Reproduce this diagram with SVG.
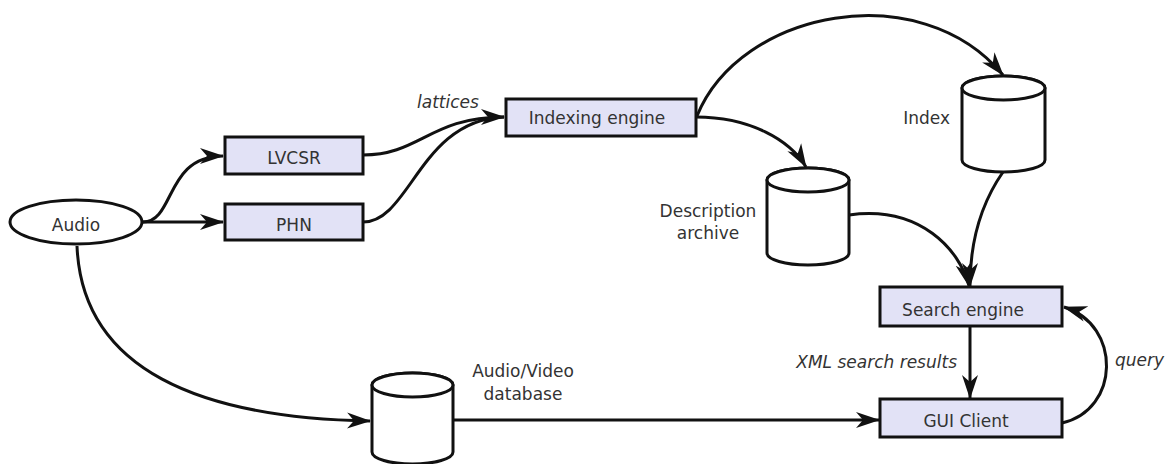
<svg xmlns="http://www.w3.org/2000/svg" width="1172" height="464" viewBox="0 0 1172 464">
<style>
.box{fill:#e2e2f6;stroke:#111;stroke-width:3}
.cyl{fill:#fff;stroke:#111;stroke-width:3}
.edge{fill:none;stroke:#111;stroke-width:3}
text{font-family:"DejaVu Sans",Verdana,sans-serif;font-size:17px;fill:#333}
.c{text-anchor:middle}
.e{text-anchor:end}
.i{font-style:italic}
</style>
<defs>
<marker id="arr" viewBox="0 0 24 18" refX="23" refY="9" markerWidth="24" markerHeight="18" markerUnits="userSpaceOnUse" orient="auto">
<path d="M0,1 L24,9 L0,17 L7,9 z" fill="#111"/>
</marker>
</defs>
<rect width="1172" height="464" fill="#fff"/>
<g id="connectors">
<path class="edge" d="M143,222 C175,222 165,156 223,156" marker-end="url(#arr)"/>
<path class="edge" d="M143,222 L223,222" marker-end="url(#arr)"/>
<path class="edge" d="M77,246 C82,370 200,418 370,421" marker-end="url(#arr)"/>
<path class="edge" d="M363,155 C420,155 430,117 504,117" marker-end="url(#arr)"/>
<path class="edge" d="M363,222 C410,222 420,120 504,117"/>
<path class="edge" d="M697,116 C740,10 920,-25 1003,75" marker-end="url(#arr)"/>
<path class="edge" d="M696,117 C750,117 790,140 806,167" marker-end="url(#arr)"/>
<path class="edge" d="M849,215 C920,205 960,250 969,286" marker-end="url(#arr)"/>
<path class="edge" d="M1003,172 C980,205 970,245 970,286" marker-end="url(#arr)"/>
<path class="edge" d="M970,326 L970,398" marker-end="url(#arr)"/>
<path class="edge" d="M453,420 L879,420" marker-end="url(#arr)"/>
<path class="edge" d="M1062,423 C1120,410 1122,325 1064,307" marker-end="url(#arr)"/>
<text class="i" x="417" y="108">lattices</text>
<text class="i e" x="957" y="368">XML search results</text>
<text class="i" x="1115" y="366">query</text>
</g>
<g id="audio">
<ellipse cx="76" cy="222" rx="66" ry="22" fill="#fff" stroke="#111" stroke-width="3"/>
<text class="c" x="76" y="231">Audio</text>
</g>
<g id="lvcsr">
<rect class="box" x="225" y="137" width="138" height="37"/>
<text class="c" x="294" y="164">LVCSR</text>
</g>
<g id="phn">
<rect class="box" x="225" y="204" width="138" height="36"/>
<text class="c" x="294" y="231">PHN</text>
</g>
<g id="indexing">
<rect class="box" x="506" y="99" width="190" height="37"/>
<text class="c" x="597" y="124">Indexing engine</text>
</g>
<g id="index">
<path class="cyl" d="M962,88 A41.5,12 0 0 1 1045,88 L1045,160 A41.5,12 0 0 1 962,160 Z"/>
<ellipse class="cyl" cx="1003.5" cy="88" rx="41.5" ry="12"/>
<text class="e" x="950" y="124">Index</text>
</g>
<g id="description">
<path class="cyl" d="M767,180 A41,12 0 0 1 849,180 L849,253 A41,12 0 0 1 767,253 Z"/>
<ellipse class="cyl" cx="808" cy="180" rx="41" ry="12"/>
<text class="c" x="708" y="217">Description</text>
<text class="c" x="708" y="239">archive</text>
</g>
<g id="avdb">
<path class="cyl" d="M372,385 A40.5,12 0 0 1 453,385 L453,452 A40.5,12 0 0 1 372,452 Z"/>
<ellipse class="cyl" cx="412.5" cy="385" rx="40.5" ry="12"/>
<text class="c" x="523" y="377">Audio/Video</text>
<text class="c" x="523" y="400">database</text>
</g>
<g id="search">
<rect class="box" x="880" y="287" width="182" height="39"/>
<text class="c" x="963" y="316">Search engine</text>
</g>
<g id="gui">
<rect class="box" x="880" y="399" width="182" height="38"/>
<text class="c" x="966" y="427">GUI Client</text>
</g>
</svg>
